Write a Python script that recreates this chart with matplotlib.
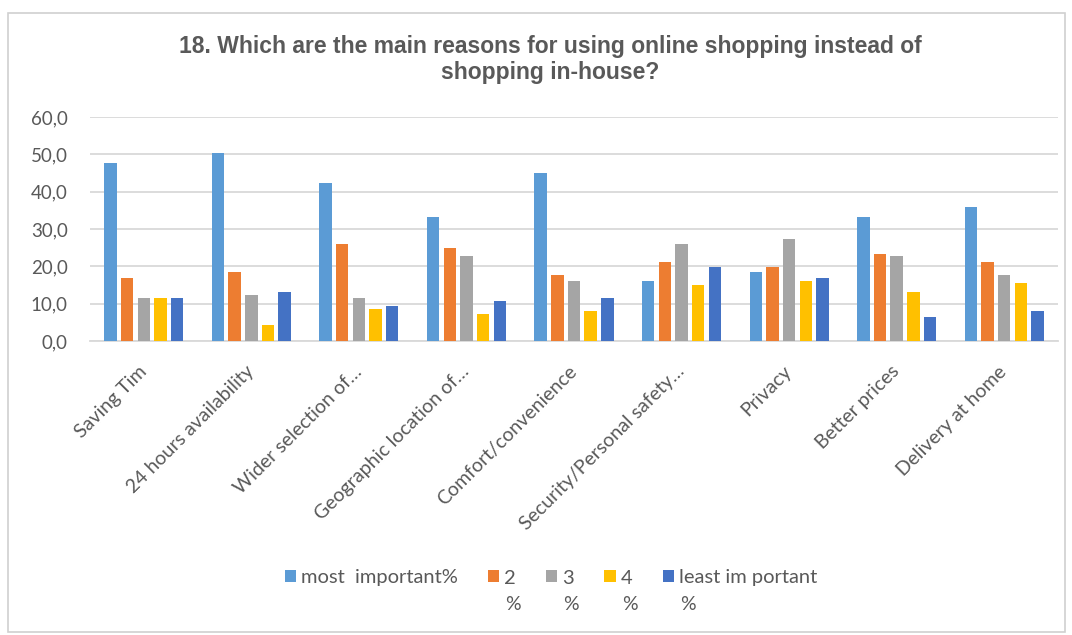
import matplotlib
matplotlib.use("Agg")
import matplotlib.pyplot as plt
import numpy as np
from matplotlib.patches import Rectangle

categories = ["Saving Tim", "24 hours availability", "Wider selection of\u2026",
              "Geographic location of\u2026", "Comfort/convenience",
              "Security/Personal safety\u2026", "Privacy", "Better prices",
              "Delivery at home"]
most_important = [47.8, 50.4, 42.2, 33.1, 45.1, 16.2, 18.4, 33.1, 36.0]
rank_2 = [17.0, 18.5, 26.0, 24.9, 17.7, 21.2, 19.8, 23.4, 21.2]
rank_3 = [11.6, 12.3, 11.6, 22.7, 16.2, 26.0, 27.4, 22.7, 17.7]
rank_4 = [11.6, 4.4, 8.7, 7.3, 8.0, 14.9, 16.2, 13.0, 15.5]
least_important = [11.6, 13.0, 9.5, 10.8, 11.6, 19.8, 17.0, 6.5, 8.0]

series = [most_important, rank_2, rank_3, rank_4, least_important]
labels = ["most  important%", "2", "3", "4", "least im portant"]
colors = ["#5B9BD5", "#ED7D31", "#A5A5A5", "#FFC000", "#4472C4"]

txt = "#595959"
plt.rcParams['font.family'] = ['Lato', 'DejaVu Sans']

fig = plt.figure(figsize=(10.72, 6.35), dpi=100)
ax = fig.add_axes([90/1072, 1 - 341/635, 968/1072, 224/635])

# chart border
fig.patches.append(Rectangle((8/1072, 3/635), 1057/1072, 619/635,
                             transform=fig.transFigure, fill=False,
                             edgecolor="#D0D0D0", linewidth=1.2))

x = np.arange(len(categories))
step = 0.155
width = 0.115
for i, (vals, lab, c) in enumerate(zip(series, labels, colors)):
    ax.bar(x + (i - 2) * step, vals, width, color=c, label=lab, zorder=3)

ax.set_xlim(-0.5, len(categories) - 0.5)
ax.set_ylim(0, 60)
ax.set_yticks(np.arange(0, 61, 10))
ax.set_yticklabels([f"{v:.1f}".replace(".", ",") for v in np.arange(0, 61, 10)],
                   fontsize=13.5, color=txt)
ax.yaxis.grid(True, color="#D9D9D9", linewidth=1.3, zorder=0)
ax.tick_params(axis="both", length=0)
ax.tick_params(axis="y", pad=16)
for s in ["top", "right", "left"]:
    ax.spines[s].set_visible(False)
ax.spines["bottom"].set_color("#D9D9D9")
ax.spines["bottom"].set_linewidth(1.3)

ax.set_xticks(x)
ax.set_xticklabels(categories, rotation=45, ha="right", va="center",
                   rotation_mode="anchor", fontsize=14, color=txt)
ax.tick_params(axis="x", pad=20)

title_font = ["Liberation Sans", "DejaVu Sans"]
fig.text(0.513, 1 - 46/635, "18. Which are the main reasons for using online shopping instead of",
         ha="center", va="center", fontsize=16.5, fontweight="bold", color=txt,
         family=title_font)
fig.text(0.513, 1 - 72/635, "shopping in-house?",
         ha="center", va="center", fontsize=16.5, fontweight="bold", color=txt,
         family=title_font)

leg = fig.legend(loc="center", bbox_to_anchor=(0.514, 1 - 578/635), ncol=5,
                 frameon=False, fontsize=14.5, handlelength=0.55, handleheight=0.55,
                 handletextpad=0.25, columnspacing=1.5, labelcolor=txt)

# percent signs sit on a second line under the short labels
fig.canvas.draw()
inv = fig.transFigure.inverted()
for t in leg.get_texts()[1:]:
    bb = t.get_window_extent()
    x0, y0 = inv.transform((bb.x0, bb.y0))
    fig.text(x0 + 0.001, y0 - 0.028, "%", ha="left", va="center",
             fontsize=14, color=txt)

fig.savefig("out.png", dpi=100)
